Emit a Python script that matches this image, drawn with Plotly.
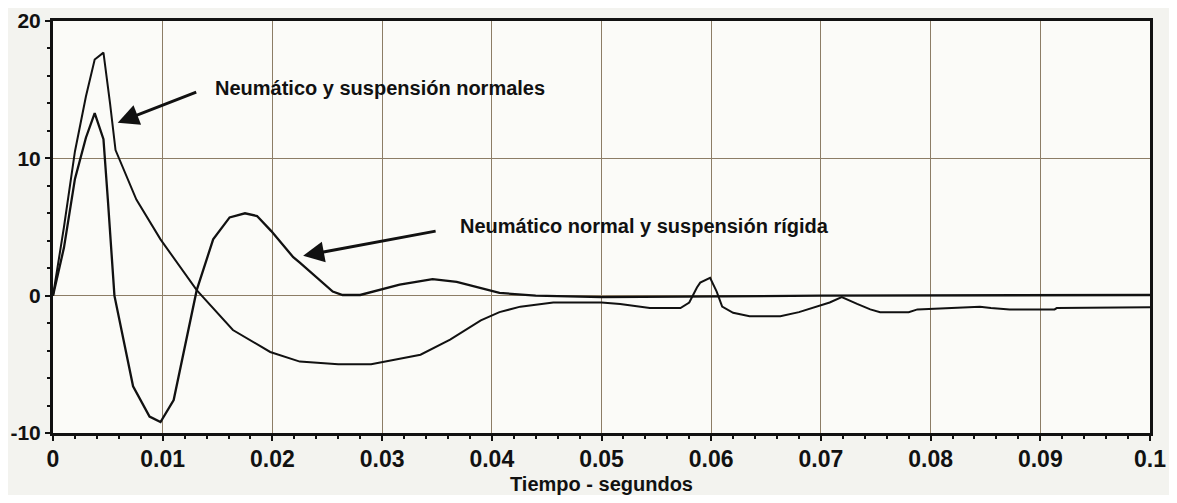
import plotly.graph_objects as go

# Data (time in seconds, response)
t_normales = [0.0, 0.001, 0.002, 0.003, 0.0038, 0.0046, 0.0052, 0.0057, 0.0076, 0.0098,
              0.0131, 0.0164, 0.0198, 0.0225, 0.026, 0.029, 0.0335, 0.0362, 0.039, 0.0407,
              0.0426, 0.0456, 0.05, 0.0517, 0.0544, 0.0572, 0.058, 0.0587, 0.059, 0.0599,
              0.0605, 0.061, 0.062, 0.0635, 0.0663, 0.068, 0.0708, 0.0719, 0.0733, 0.0745,
              0.0754, 0.078, 0.0788, 0.0811, 0.0845, 0.0855, 0.0872, 0.0913, 0.0915, 0.1]
y_normales = [0.0, 5.0, 10.5, 14.5, 17.2, 17.7, 14.0, 10.6, 7.0, 4.1,
              0.4, -2.5, -4.1, -4.8, -5.0, -5.0, -4.3, -3.2, -1.8, -1.2,
              -0.8, -0.5, -0.5, -0.6, -0.9, -0.9, -0.5, 0.6, 0.95, 1.3,
              0.3, -0.8, -1.25, -1.5, -1.5, -1.2, -0.5, -0.1, -0.6, -1.0,
              -1.2, -1.2, -1.0, -0.9, -0.8, -0.9, -1.0, -1.0, -0.9, -0.85]

t_rigida = [0.0, 0.001, 0.002, 0.003, 0.0038, 0.0046, 0.005, 0.0056, 0.0073, 0.0088,
            0.0098, 0.011, 0.0131, 0.0146, 0.0161, 0.0175, 0.0186, 0.0199, 0.0219, 0.0225,
            0.0255, 0.0264, 0.028, 0.0316, 0.0346, 0.0368, 0.0407, 0.044, 0.05, 0.07, 0.1]
y_rigida = [0.0, 3.5, 8.5, 11.5, 13.3, 11.4, 7.0, 0.0, -6.6, -8.8,
            -9.2, -7.6, 0.4, 4.1, 5.7, 6.0, 5.8, 4.7, 2.8, 2.4,
            0.3, 0.05, 0.05, 0.8, 1.2, 1.0, 0.2, 0.0, -0.1, 0.0, 0.05]

x_ticks = [0, 0.01, 0.02, 0.03, 0.04, 0.05, 0.06, 0.07, 0.08, 0.09, 0.1]
x_labels = ["0", "0.01", "0.02", "0.03", "0.04", "0.05", "0.06", "0.07", "0.08", "0.09", "0.1"]
y_ticks = [-10, 0, 10, 20]
y_labels = ["-10", "0", "10", "20"]

label_normales = "Neumático y suspensión normales"
label_rigida = "Neumático normal y suspensión rígida"
x_title = "Tiempo - segundos"

fig = go.Figure()
fig.add_trace(go.Scatter(x=t_normales, y=y_normales, mode="lines",
                         line=dict(color="#111111", width=2), name=label_normales))
fig.add_trace(go.Scatter(x=t_rigida, y=y_rigida, mode="lines",
                         line=dict(color="#111111", width=2.3), name=label_rigida))

grid_col = "#8c7d66"
fam = "Liberation Sans Narrow, Arial Narrow, Liberation Sans"
x_tick_font = dict(family=fam, size=23, color="#111111", weight="bold")
y_tick_font = dict(family=fam, size=21, color="#111111", weight="bold")

fig.update_layout(
    width=1161, height=487,
    margin=dict(l=45, r=19, t=13, b=62, autoexpand=False),
    paper_bgcolor="#f3f3ef",
    plot_bgcolor="#fbfbf8",
    showlegend=False,
    xaxis=dict(range=[0, 0.1], tickmode="array", tickvals=x_ticks, ticktext=x_labels,
               showgrid=True, gridcolor=grid_col, gridwidth=1.3, automargin=False,
               showline=True, linecolor="#111111", linewidth=3, mirror=True,
               ticks="outside", ticklen=5, tickwidth=2, tickcolor="#111111",
               ticklabelstandoff=-2,
               minor=dict(dtick=0.002, ticks="outside", ticklen=3, tickwidth=1.5, tickcolor="#111111", showgrid=False),
               tickfont=x_tick_font, zeroline=False,
               title=dict(text=x_title, standoff=14,
                          font=dict(family="Liberation Sans, Arial", size=20, color="#111111", weight="bold"))),
    yaxis=dict(range=[-10, 20], tickmode="array", tickvals=y_ticks, ticktext=y_labels,
               showgrid=True, gridcolor=grid_col, gridwidth=1.3, automargin=False,
               showline=True, linecolor="#111111", linewidth=3, mirror=True,
               ticks="outside", ticklen=5, tickwidth=2, tickcolor="#111111",
               minor=dict(dtick=2, ticks="outside", ticklen=3, tickwidth=1.5, tickcolor="#111111", showgrid=False),
               tickfont=y_tick_font, zeroline=False),
)

ann_font = dict(family="Liberation Sans, Arial", size=20, color="#111111", weight="bold")
fig.add_annotation(x=0.0059, y=12.6, ax=80, ay=-31, axref="pixel", ayref="pixel",
                   text="", showarrow=True, arrowhead=2, arrowsize=1.4, arrowwidth=3, arrowcolor="#111111")
fig.add_annotation(x=0.0146, y=15.1, text=label_normales, showarrow=False,
                   xanchor="left", yanchor="middle", font=ann_font)
fig.add_annotation(x=0.0228, y=2.9, ax=134, ay=-25, axref="pixel", ayref="pixel",
                   text="", showarrow=True, arrowhead=2, arrowsize=1.4, arrowwidth=3, arrowcolor="#111111")
fig.add_annotation(x=0.0369, y=5.1, text=label_rigida, showarrow=False,
                   xanchor="left", yanchor="middle", font=ann_font)

fig.write_html("out.html")
